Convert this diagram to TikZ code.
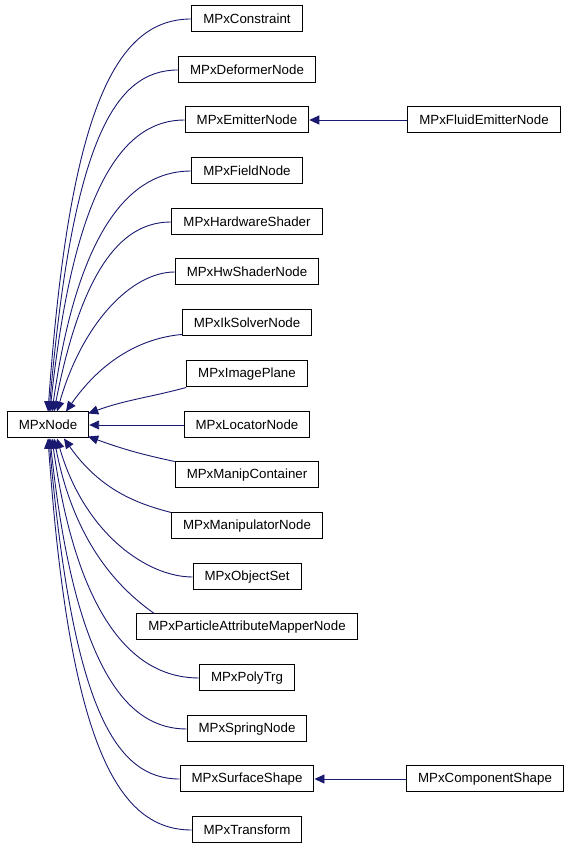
\documentclass[tikz,border=0pt]{standalone}
\usepackage{fontspec}
\setmainfont{Liberation Sans}
\usetikzlibrary{arrows.meta, positioning}
\definecolor{edgeblue}{HTML}{191970}
\tikzset{
  cls/.style={
    rectangle, draw=black, fill=white, line width=1pt,
    minimum height=26pt, inner xsep=11.5pt, inner ysep=0pt,
    font=\fontsize{13.3}{15}\selectfont,
  },
  inherit/.style={
    -{Triangle[length=10pt, width=9pt]}, line width=0.9pt, draw=edgeblue,
  },
  bend far/.style={
    out looseness=0.45, in looseness=1.9,
  },
  bend near/.style={
    out looseness=0.6, in looseness=1.3,
  }
}

\begin{document}
\begin{tikzpicture}[x=1pt, y=1pt]

  \useasboundingbox (0,0) rectangle (568,848);

  % base class
  \node[cls] (mpxnode) at (48, 423) {MPxNode};

  % derived classes
  \node[cls] (constraint) at (247, 829) {MPxConstraint};
  \node[cls] (deformer)   at (247, 778) {MPxDeformerNode};
  \node[cls] (emitter)    at (247, 728) {MPxEmitterNode};
  \node[cls] (field)      at (247, 677) {MPxFieldNode};
  \node[cls] (hwshader)   at (247, 626) {MPxHardwareShader};
  \node[cls] (hwsnode)    at (247, 576) {MPxHwShaderNode};
  \node[cls] (iksolver)   at (247, 525) {MPxIkSolverNode};
  \node[cls] (imgplane)   at (247, 474) {MPxImagePlane};
  \node[cls] (locator)    at (247, 423) {MPxLocatorNode};
  \node[cls] (manipcont)  at (247, 373) {MPxManipContainer};
  \node[cls] (manipnode)  at (247, 322) {MPxManipulatorNode};
  \node[cls] (objset)     at (247, 271) {MPxObjectSet};
  \node[cls] (particle)   at (247, 221) {MPxParticleAttributeMapperNode};
  \node[cls] (polytrg)    at (247, 170) {MPxPolyTrg};
  \node[cls] (spring)     at (247, 119) {MPxSpringNode};
  \node[cls] (surface)    at (247,  69) {MPxSurfaceShape};
  \node[cls] (transform)  at (247,  18) {MPxTransform};

  \node[cls] (fluid)      at (484, 728) {MPxFluidEmitterNode};
  \node[cls] (component)  at (485,  69) {MPxComponentShape};

  % edges into the top of MPxNode
  \draw[inherit] (constraint.west) to[out=180, in=86, bend far] ([xshift=0pt]mpxnode.north);
  \draw[inherit] (deformer.west)   to[out=180, in=85, bend far] ([xshift=1pt]mpxnode.north);
  \draw[inherit] (emitter.west)    to[out=180, in=84, bend far] ([xshift=2pt]mpxnode.north);
  \draw[inherit] (field.west)      to[out=180, in=82, bend far] ([xshift=4pt]mpxnode.north);
  \draw[inherit] (hwshader.west)   to[out=180, in=79, bend far] ([xshift=6pt]mpxnode.north);
  \draw[inherit] (hwsnode.west)    to[out=180, in=74, bend near] ([xshift=9pt]mpxnode.north);
  \draw[inherit] (iksolver.190)    to[out=185, in=55, bend near] ([xshift=18pt]mpxnode.north);
  \draw[inherit] (imgplane.south west) to[out=195, in=20] ([xshift=-1pt, yshift=-2pt]mpxnode.north east);

  \draw[inherit] (locator) -- (mpxnode);

  % edges into the bottom of MPxNode
  \draw[inherit] (manipcont.north west) to[out=168, in=-20] ([xshift=-1pt, yshift=2pt]mpxnode.south east);
  \draw[inherit] (manipnode.north west) to[out=165, in=-55, bend near] ([xshift=16pt]mpxnode.south);
  \draw[inherit] (objset.west)      to[out=180, in=-74, bend near] ([xshift=9pt]mpxnode.south);
  \draw[inherit] ([xshift=18pt]particle.north west) to[out=145, in=-79, bend near] ([xshift=6pt]mpxnode.south);
  \draw[inherit] (polytrg.west)     to[out=180, in=-82, bend far] ([xshift=4pt]mpxnode.south);
  \draw[inherit] (spring.west)      to[out=180, in=-84, bend far] ([xshift=2pt]mpxnode.south);
  \draw[inherit] (surface.west)     to[out=180, in=-85, bend far] ([xshift=1pt]mpxnode.south);
  \draw[inherit] (transform.west)   to[out=180, in=-86, bend far] ([xshift=0pt]mpxnode.south);

  % second level
  \draw[inherit] (fluid) -- (emitter);
  \draw[inherit] (component) -- (surface);

\end{tikzpicture}
\end{document}
